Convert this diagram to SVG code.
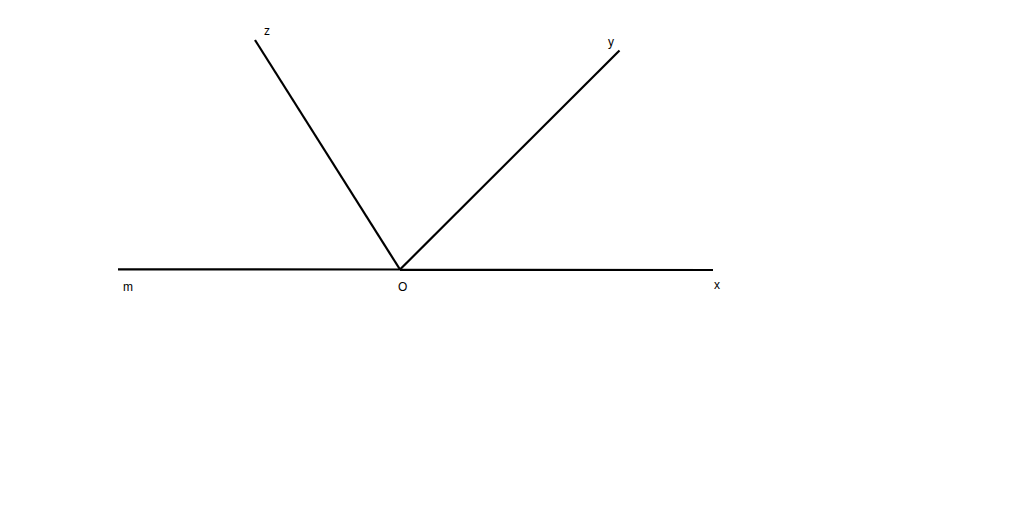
<svg xmlns="http://www.w3.org/2000/svg" width="1024" height="528" viewBox="0 0 1024 528">
<style>
.ln{stroke:#000;stroke-width:2.2;fill:none;stroke-linecap:butt}
.lb{font-family:"Liberation Sans",Arial,sans-serif;font-size:12px;fill:#000}
</style>
<rect width="1024" height="528" fill="#fff"/>
<g id="connectors">
<line class="ln" x1="118" y1="269.3" x2="400" y2="269.5"/>
<line class="ln" x1="400" y1="269.8" x2="713" y2="270"/>
<line class="ln" x1="255" y1="40" x2="400" y2="269.5"/>
<line class="ln" x1="619.5" y1="50.5" x2="400" y2="269.5"/>
</g>
<g id="node-m"><text class="lb" x="123" y="291">m</text></g>
<g id="node-O"><text class="lb" x="398" y="291">O</text></g>
<g id="node-x"><text class="lb" x="714" y="289">x</text></g>
<g id="node-z"><text class="lb" x="264" y="35">z</text></g>
<g id="node-y"><text class="lb" x="608" y="46">y</text></g>
</svg>
